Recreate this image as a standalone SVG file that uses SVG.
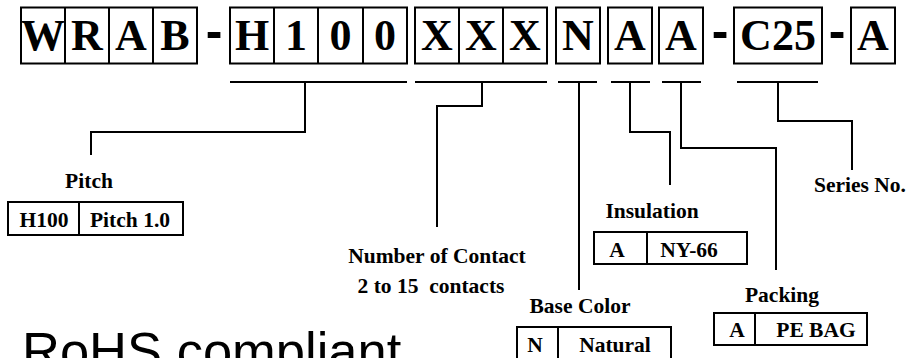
<svg xmlns="http://www.w3.org/2000/svg" width="917" height="358" viewBox="0 0 917 358">
<style>
.bx{fill:none;stroke:#000;stroke-width:2}
.big{font-family:"Liberation Serif","Times New Roman",serif;font-weight:bold;font-size:44px;text-anchor:middle;fill:#000}
.dash{font-family:"Liberation Sans",Arial,sans-serif;font-weight:bold;font-size:50px;text-anchor:middle;fill:#000}
.lbl{font-family:"Liberation Serif","Times New Roman",serif;font-weight:bold;font-size:21.5px;text-anchor:middle;fill:#000;white-space:pre}
.ln{fill:none;stroke:#000;stroke-width:2}
.rohs{font-family:"Liberation Sans",Arial,sans-serif;font-size:52.5px;fill:#000}
</style>
<g id="code">
<rect class="bx" x="21" y="7.5" width="176" height="56"/>
<line class="ln" x1="65" y1="7.5" x2="65" y2="63.5"/><line class="ln" x1="109" y1="7.5" x2="109" y2="63.5"/><line class="ln" x1="153" y1="7.5" x2="153" y2="63.5"/>
<text class="big" x="43" y="50">W</text><text class="big" x="87" y="50">R</text><text class="big" x="131" y="50">A</text><text class="big" x="175" y="50">B</text>
<text class="dash" x="214" y="48">-</text>
<rect class="bx" x="230" y="7.5" width="177" height="56"/>
<line class="ln" x1="274" y1="7.5" x2="274" y2="63.5"/><line class="ln" x1="318" y1="7.5" x2="318" y2="63.5"/><line class="ln" x1="363" y1="7.5" x2="363" y2="63.5"/>
<text class="big" x="252" y="50">H</text><text class="big" x="296" y="50">1</text><text class="big" x="340.5" y="50">0</text><text class="big" x="385" y="50">0</text>
<rect class="bx" x="415" y="7.5" width="132" height="56"/>
<line class="ln" x1="459" y1="7.5" x2="459" y2="63.5"/><line class="ln" x1="503" y1="7.5" x2="503" y2="63.5"/>
<text class="big" x="437" y="50">X</text><text class="big" x="481" y="50">X</text><text class="big" x="525" y="50">X</text>
<rect class="bx" x="556" y="7.5" width="44" height="56"/><text class="big" x="578" y="50">N</text>
<rect class="bx" x="608" y="7.5" width="44" height="56"/><text class="big" x="630" y="50">A</text>
<rect class="bx" x="659" y="7.5" width="44" height="56"/><text class="big" x="681" y="50">A</text>
<text class="dash" x="720" y="48">-</text>
<rect class="bx" x="734" y="7.5" width="88" height="56"/><text class="big" x="778" y="50">C25</text>
<text class="dash" x="837" y="48">-</text>
<rect class="bx" x="851" y="7.5" width="44" height="56"/><text class="big" x="873" y="50">A</text>
</g>
<g id="connectors">
<line class="ln" x1="230" y1="82" x2="407" y2="82"/>
<polyline class="ln" points="305,82 305,132 91,132 91,155"/>
<line class="ln" x1="415" y1="82" x2="547" y2="82"/>
<polyline class="ln" points="482,82 482,106 437,106 437,227"/>
<line class="ln" x1="558" y1="82" x2="597" y2="82"/>
<polyline class="ln" points="579,82 579,290"/>
<line class="ln" x1="611" y1="82" x2="650" y2="82"/>
<polyline class="ln" points="630,82 630,132 670,132 670,185"/>
<line class="ln" x1="662" y1="82" x2="701" y2="82"/>
<polyline class="ln" points="681,82 681,148 776,148 776,270"/>
<line class="ln" x1="737" y1="82" x2="818" y2="82"/>
<polyline class="ln" points="778,82 778,121 852,121 852,170"/>
</g>
<g id="pitch">
<text class="lbl" x="89" y="188">Pitch</text>
<rect class="bx" x="8" y="202" width="175" height="33"/>
<line class="ln" x1="79" y1="202" x2="79" y2="235"/>
<text class="lbl" x="44" y="227">H100</text>
<text class="lbl" x="130" y="227">Pitch 1.0</text>
</g>
<g id="contacts">
<text class="lbl" x="437" y="263">Number of Contact</text>
<text class="lbl" x="431" y="293">2 to 15  contacts</text>
</g>
<g id="insulation">
<text class="lbl" x="652" y="218">Insulation</text>
<rect class="bx" x="594" y="232" width="153" height="32"/>
<line class="ln" x1="647" y1="232" x2="647" y2="264"/>
<text class="lbl" x="617" y="257">A</text>
<text class="lbl" x="689" y="257">NY-66</text>
</g>
<g id="series">
<text class="lbl" x="860" y="192">Series No.</text>
</g>
<g id="basecolor">
<text class="lbl" x="580" y="313">Base Color</text>
<rect class="bx" x="517" y="327" width="154" height="45"/>
<line class="ln" x1="558" y1="327" x2="558" y2="372"/>
<text class="lbl" x="535" y="352">N</text>
<text class="lbl" x="615" y="352">Natural</text>
</g>
<g id="packing">
<text class="lbl" x="782" y="302">Packing</text>
<rect class="bx" x="714" y="313" width="153" height="32"/>
<line class="ln" x1="755" y1="313" x2="755" y2="345"/>
<text class="lbl" x="737" y="337">A</text>
<text class="lbl" x="816" y="337">PE BAG</text>
</g>
<text class="rohs" x="22" y="369">RoHS compliant</text>
</svg>
